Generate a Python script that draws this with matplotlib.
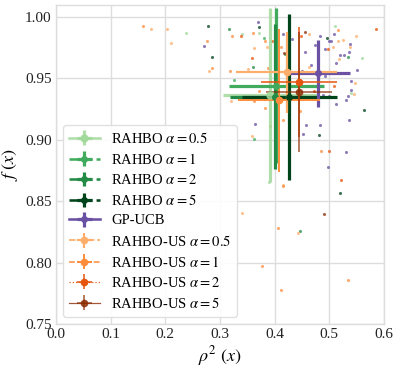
import matplotlib
matplotlib.use("Agg")
import matplotlib.pyplot as plt

plt.rcParams['font.family'] = ['Liberation Serif', 'DejaVu Serif']
plt.rcParams['mathtext.fontset'] = 'stix'

labels = [r'RAHBO $\alpha=0.5$', r'RAHBO $\alpha=1$', r'RAHBO $\alpha=2$', r'RAHBO $\alpha=5$',
          'GP-UCB',
          r'RAHBO-US $\alpha=0.5$', r'RAHBO-US $\alpha=1$', r'RAHBO-US $\alpha=2$', r'RAHBO-US $\alpha=5$']
colors = ['#a1d99b', '#41ab5d', '#238b45', '#00441b', '#6a51a3',
          '#fdae6b', '#fd8d3c', '#e6550d', '#8c2d04']
linestyles = ['-', '--', '--', '-.', '-', '--', '--', ':', '-']

mean_x = [0.392, 0.403, 0.400, 0.427, 0.480, 0.422, 0.408, 0.445, 0.445]
mean_y = [0.9365, 0.944, 0.935, 0.935, 0.954, 0.955, 0.932, 0.947, 0.939]
err_x = [0.086, 0.087, 0.082, 0.087, 0.058, 0.092, 0.075, 0.070, 0.060]
err_y = [0.0705, 0.063, 0.059, 0.0675, 0.027, 0.033, 0.058, 0.045, 0.049]

runs_x = [
    [0.238, 0.340, 0.371, 0.510, 0.560, 0.540, 0.390],
    [0.326, 0.362, 0.380],
    [0.316, 0.360, 0.419, 0.534, 0.446],
    [0.278, 0.285, 0.371, 0.496, 0.563, 0.481, 0.519],
    [0.271, 0.370, 0.364, 0.415, 0.432, 0.483, 0.508, 0.500, 0.503, 0.474, 0.492, 0.455,
     0.538, 0.536, 0.519, 0.527, 0.512, 0.466, 0.450, 0.551, 0.492, 0.540, 0.540, 0.488,
     0.534, 0.499, 0.530, 0.512, 0.536, 0.457, 0.483, 0.452, 0.530, 0.498],
    [0.174, 0.203, 0.210, 0.280, 0.386, 0.362, 0.351, 0.320, 0.463, 0.525, 0.516, 0.549,
     0.507, 0.538, 0.518, 0.463, 0.547, 0.545, 0.415, 0.340, 0.443, 0.358],
    [0.159, 0.276, 0.285, 0.318, 0.322, 0.360, 0.382, 0.388, 0.371, 0.362, 0.382, 0.391,
     0.411, 0.516, 0.452, 0.446, 0.415, 0.485, 0.415, 0.406, 0.377, 0.411, 0.534],
    [0.338, 0.359, 0.395, 0.448, 0.585, 0.498, 0.508, 0.472, 0.423, 0.499, 0.521],
    [0.417, 0.490, 0.455],
]
runs_y = [
    [0.987, 0.986, 0.987, 0.9927, 0.9666, 0.938, 0.866],
    [0.949, 0.901, 0.983],
    [0.990, 0.959, 0.970, 0.967, 0.8257],
    [0.9927, 0.967, 0.992, 0.983, 0.924, 0.904, 0.857],
    [0.976, 0.996, 0.913, 0.986, 0.982, 0.9845, 0.986, 0.980, 0.980, 0.977, 0.974, 0.9715,
     0.978, 0.9715, 0.969, 0.969, 0.9625, 0.961, 0.956, 0.957, 0.952, 0.948, 0.9406, 0.9365,
     0.9357, 0.9357, 0.932, 0.929, 0.916, 0.912, 0.912, 0.905, 0.890, 0.878],
    [0.990, 0.990, 0.979, 0.956, 0.9755, 0.975, 0.9577, 0.9316, 0.986, 0.981, 0.980, 0.9845,
     0.9756, 0.9756, 0.966, 0.959, 0.946, 0.937, 0.863, 0.840, 0.824, 0.903],
    [0.9927, 0.980, 0.958, 0.956, 0.9845, 0.987, 0.980, 0.958, 0.940, 0.9316, 0.926, 0.911,
     0.9756, 0.989, 0.9365, 0.923, 0.916, 0.891, 0.862, 0.828, 0.797, 0.778, 0.786],
    [0.9845, 0.9666, 0.980, 0.9845, 0.990, 0.974, 0.944, 0.940, 0.9275, 0.891, 0.867],
    [0.971, 0.8396, 0.988],
]

x_ticks = [0.0, 0.1, 0.2, 0.3, 0.4, 0.5, 0.6]
y_ticks = [0.75, 0.80, 0.85, 0.90, 0.95, 1.00]

elw = [2.3, 2.3, 2.3, 2.3, 2.3, 1.6, 1.4, 1.1, 1.1]
msz = [5, 4, 4, 4, 4, 4.5, 4.5, 4.5, 4.5]
alphas = [0.85, 1, 1, 1, 1, 1, 1, 1, 0.8]

fig = plt.figure(figsize=(3.99, 3.72), dpi=100)
ax = fig.add_axes([0.140, 0.129, 0.822, 0.858])
ax.set_facecolor('white')

for i in range(len(labels)):
    ax.scatter(runs_x[i], runs_y[i], s=5, color=colors[i], alpha=0.75, linewidths=0, zorder=2)

for i in range(len(labels)):
    ax.errorbar([mean_x[i]], [mean_y[i]], xerr=[err_x[i]], yerr=[err_y[i]],
                fmt='o', linestyle=linestyles[i], color=colors[i], ecolor=colors[i],
                elinewidth=elw[i], lw=elw[i] * 0.8, markersize=msz[i], capsize=0,
                alpha=alphas[i], label=labels[i], zorder=3)

ax.set_xlim(0.0, 0.6)
ax.set_ylim(0.75, 1.0098)
ax.set_xticks(x_ticks)
ax.set_xticklabels([f'{v:.1f}' for v in x_ticks])
ax.set_yticks(y_ticks)
ax.set_yticklabels([f'{v:.2f}' for v in y_ticks])
ax.tick_params(length=0, labelsize=11, colors='#222222', pad=3)
ax.grid(True, color='#dddddd', linewidth=1.0, zorder=0)
ax.set_axisbelow(True)
for s in ax.spines.values():
    s.set_color('#dddddd')
    s.set_linewidth(1.0)

ax.set_xlabel(r'$\rho^2\ (x)$', fontsize=13, labelpad=2)
ax.set_ylabel(r'$f\ (x)$', fontsize=13, labelpad=4)

leg = ax.legend(loc='lower left', fontsize=10.5, frameon=True, handlelength=2.1,
                labelspacing=0.42, borderaxespad=0.5, fancybox=True, framealpha=0.9)
leg.get_frame().set_edgecolor('#dddddd')

fig.savefig('out.png', dpi=100)
